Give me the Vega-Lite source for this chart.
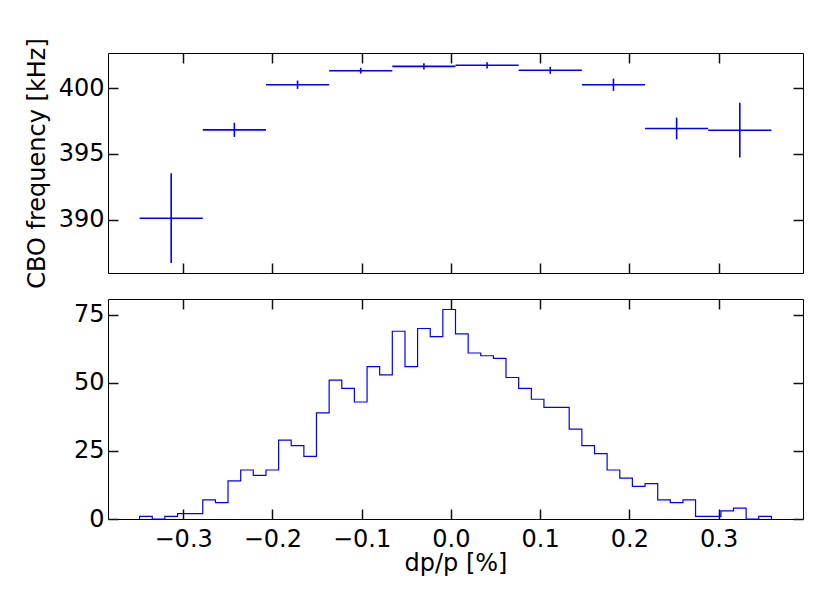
{
  "$schema": "https://vega.github.io/schema/vega-lite/v6.json",
  "padding": {"left": 24, "top": 37, "right": 27, "bottom": 5},
  "config": {
    "font": "DejaVu Sans",
    "view": {"stroke": "black", "strokeWidth": 1},
    "axis": {
      "grid": false,
      "domain": false,
      "ticks": true,
      "offset": -10,
      "tickSize": 10,
      "tickColor": "#111111",
      "tickWidth": 1.5,
      "labelFontSize": 24,
      "labelColor": "black",
      "titleFontSize": 24,
      "titleFontWeight": "normal",
      "titleColor": "black"
    }
  },
  "datasets": {
    "cbo": [
      {"center": -0.3134, "lo": -0.3488, "hi": -0.2780, "freq": 390.10, "flo": 386.68, "fhi": 393.52},
      {"center": -0.2426, "lo": -0.2780, "hi": -0.2072, "freq": 396.84, "flo": 396.30, "fhi": 397.38},
      {"center": -0.1718, "lo": -0.2072, "hi": -0.1364, "freq": 400.28, "flo": 399.96, "fhi": 400.60},
      {"center": -0.1010, "lo": -0.1364, "hi": -0.0656, "freq": 401.35, "flo": 401.13, "fhi": 401.57},
      {"center": -0.0302, "lo": -0.0656, "hi": 0.0052, "freq": 401.68, "flo": 401.45, "fhi": 401.91},
      {"center": 0.0406, "lo": 0.0052, "hi": 0.0760, "freq": 401.76, "flo": 401.52, "fhi": 402.00},
      {"center": 0.1114, "lo": 0.0760, "hi": 0.1468, "freq": 401.38, "flo": 401.11, "fhi": 401.65},
      {"center": 0.1822, "lo": 0.1468, "hi": 0.2176, "freq": 400.28, "flo": 399.81, "fhi": 400.75},
      {"center": 0.2530, "lo": 0.2176, "hi": 0.2884, "freq": 396.94, "flo": 396.11, "fhi": 397.77},
      {"center": 0.3238, "lo": 0.2884, "hi": 0.3592, "freq": 396.81, "flo": 394.72, "fhi": 398.90}
    ],
    "hist": [
      {"ord": -1, "edge": -0.3488, "count": 0},
      {"ord": 0, "edge": -0.3488, "count": 1},
      {"ord": 1, "edge": -0.3346, "count": 0},
      {"ord": 2, "edge": -0.3205, "count": 1},
      {"ord": 3, "edge": -0.3063, "count": 2},
      {"ord": 4, "edge": -0.2922, "count": 2},
      {"ord": 5, "edge": -0.2780, "count": 7},
      {"ord": 6, "edge": -0.2638, "count": 6},
      {"ord": 7, "edge": -0.2497, "count": 14},
      {"ord": 8, "edge": -0.2355, "count": 18},
      {"ord": 9, "edge": -0.2214, "count": 16},
      {"ord": 10, "edge": -0.2072, "count": 18},
      {"ord": 11, "edge": -0.1930, "count": 29},
      {"ord": 12, "edge": -0.1789, "count": 27},
      {"ord": 13, "edge": -0.1647, "count": 23},
      {"ord": 14, "edge": -0.1506, "count": 39},
      {"ord": 15, "edge": -0.1364, "count": 51},
      {"ord": 16, "edge": -0.1222, "count": 48},
      {"ord": 17, "edge": -0.1081, "count": 43},
      {"ord": 18, "edge": -0.0939, "count": 56},
      {"ord": 19, "edge": -0.0798, "count": 53},
      {"ord": 20, "edge": -0.0656, "count": 69},
      {"ord": 21, "edge": -0.0514, "count": 56},
      {"ord": 22, "edge": -0.0373, "count": 70},
      {"ord": 23, "edge": -0.0231, "count": 67},
      {"ord": 24, "edge": -0.0090, "count": 77},
      {"ord": 25, "edge": 0.0052, "count": 68},
      {"ord": 26, "edge": 0.0194, "count": 61},
      {"ord": 27, "edge": 0.0335, "count": 60},
      {"ord": 28, "edge": 0.0477, "count": 59},
      {"ord": 29, "edge": 0.0618, "count": 52},
      {"ord": 30, "edge": 0.0760, "count": 48},
      {"ord": 31, "edge": 0.0902, "count": 44},
      {"ord": 32, "edge": 0.1043, "count": 41},
      {"ord": 33, "edge": 0.1185, "count": 41},
      {"ord": 34, "edge": 0.1326, "count": 33},
      {"ord": 35, "edge": 0.1468, "count": 27},
      {"ord": 36, "edge": 0.1610, "count": 24},
      {"ord": 37, "edge": 0.1751, "count": 18},
      {"ord": 38, "edge": 0.1893, "count": 15},
      {"ord": 39, "edge": 0.2034, "count": 12},
      {"ord": 40, "edge": 0.2176, "count": 13},
      {"ord": 41, "edge": 0.2318, "count": 7},
      {"ord": 42, "edge": 0.2459, "count": 6},
      {"ord": 43, "edge": 0.2601, "count": 7},
      {"ord": 44, "edge": 0.2742, "count": 1},
      {"ord": 45, "edge": 0.2884, "count": 1},
      {"ord": 46, "edge": 0.3026, "count": 3},
      {"ord": 47, "edge": 0.3167, "count": 4},
      {"ord": 48, "edge": 0.3309, "count": 0},
      {"ord": 49, "edge": 0.3450, "count": 1},
      {"ord": 50, "edge": 0.3592, "count": 1},
      {"ord": 51, "edge": 0.3592, "count": 0}
    ]
  },
  "bounds": "flush",
  "spacing": 26,
  "vconcat": [
    {
      "width": 695,
      "height": 220,
      "data": {"name": "cbo"},
      "resolve": {"axis": {"x": "independent", "y": "independent"}},
      "layer": [
        {
          "mark": {"type": "rule", "color": "#0000ff", "strokeWidth": 1.6},
          "encoding": {
            "x": {"field": "lo", "type": "quantitative",
                  "scale": {"domain": [-0.3842, 0.3946], "nice": false, "zero": false},
                  "axis": {"orient": "bottom", "values": [-0.3, -0.2, -0.1, 0, 0.1, 0.2, 0.3], "labels": false, "title": null}},
            "x2": {"field": "hi"},
            "y": {"field": "freq", "type": "quantitative",
                  "scale": {"domain": [385.92, 402.7], "nice": false, "zero": false},
                  "axis": {"orient": "left", "values": [390, 395, 400], "labelPadding": 4, "title": "CBO frequency [kHz]", "titlePadding": 9}}
          }
        },
        {
          "mark": {"type": "rule", "color": "#0000ff", "strokeWidth": 1.6},
          "encoding": {
            "x": {"field": "center", "type": "quantitative",
                  "axis": {"orient": "top", "values": [-0.3, -0.2, -0.1, 0, 0.1, 0.2, 0.3], "labels": false, "title": null}},
            "y": {"field": "flo", "type": "quantitative",
                  "axis": {"orient": "right", "values": [390, 395, 400], "labels": false, "title": null}},
            "y2": {"field": "fhi"}
          }
        }
      ]
    },
    {
      "width": 695,
      "height": 220,
      "data": {"name": "hist"},
      "resolve": {"axis": {"x": "independent", "y": "independent"}},
      "layer": [
        {
          "mark": {"type": "line", "color": "#0000ff", "strokeWidth": 1.2, "interpolate": "step-after"},
          "encoding": {
            "x": {"field": "edge", "type": "quantitative",
                  "scale": {"domain": [-0.3842, 0.3946], "nice": false, "zero": false},
                  "axis": {"orient": "bottom", "values": [-0.3, -0.2, -0.1, 0, 0.1, 0.2, 0.3], "format": ".1f", "labelPadding": 8, "title": "dp/p [%]", "titlePadding": 0}},
            "y": {"field": "count", "type": "quantitative",
                  "scale": {"domain": [0, 80.85], "nice": false},
                  "axis": {"orient": "left", "values": [0, 25, 50, 75], "labelPadding": 4, "title": null}},
            "order": {"field": "ord", "type": "quantitative"}
          }
        },
        {
          "mark": {"type": "line", "opacity": 0},
          "encoding": {
            "x": {"field": "edge", "type": "quantitative",
                  "axis": {"orient": "top", "values": [-0.3, -0.2, -0.1, 0, 0.1, 0.2, 0.3], "labels": false, "title": null}},
            "y": {"field": "count", "type": "quantitative",
                  "axis": {"orient": "right", "values": [0, 25, 50, 75], "labels": false, "title": null}},
            "order": {"field": "ord", "type": "quantitative"}
          }
        }
      ]
    }
  ]
}
